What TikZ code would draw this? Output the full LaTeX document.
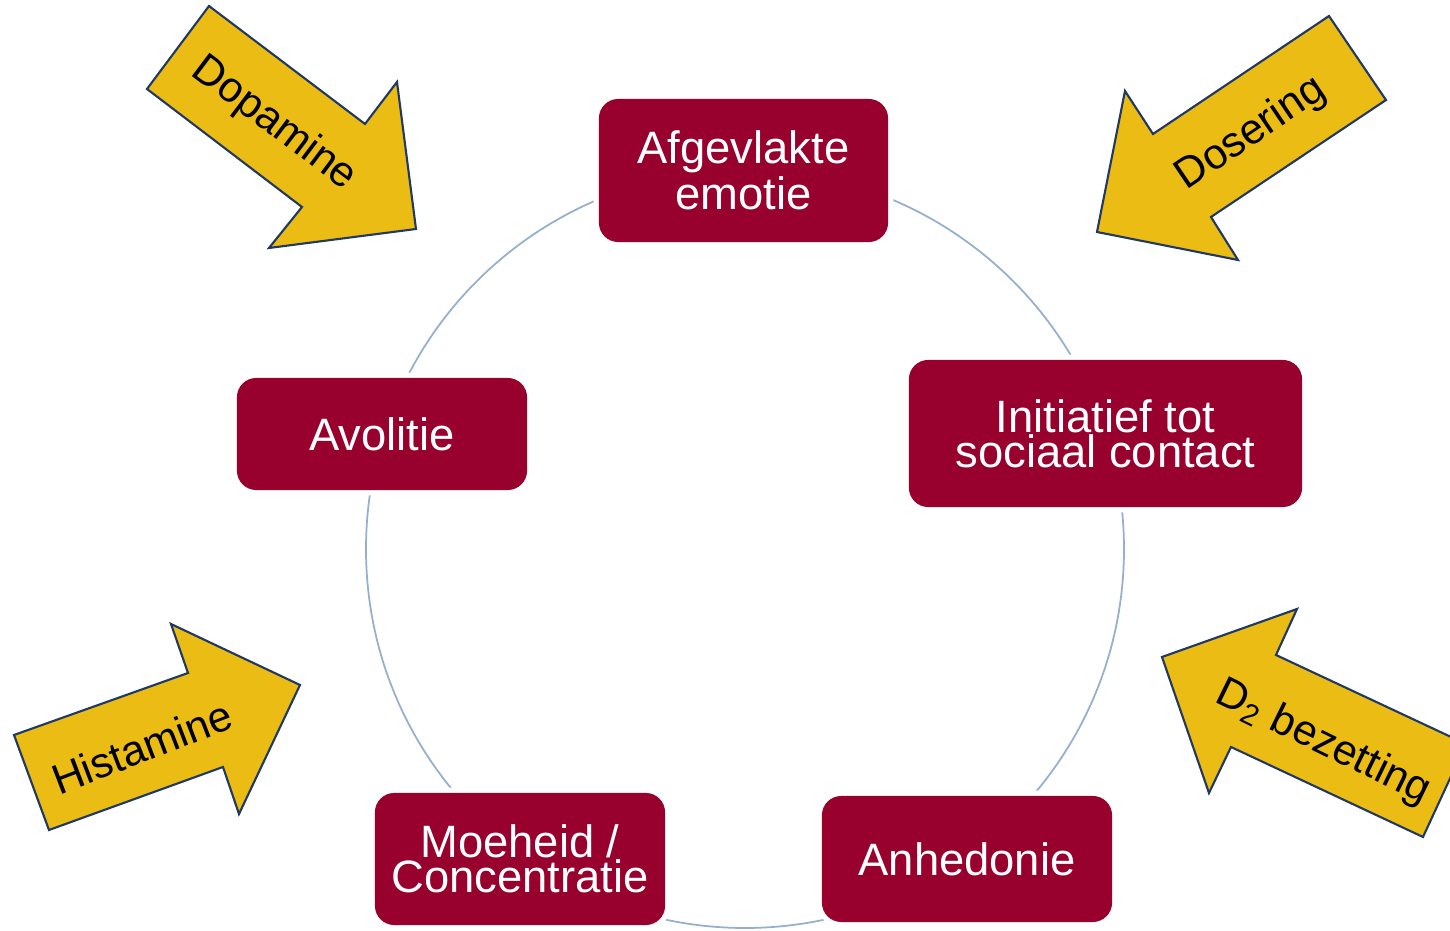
\documentclass[tikz,border=0pt]{standalone}
\usepackage{fontspec}
\setmainfont{Liberation Sans}

\definecolor{bordeaux}{RGB}{152,0,46}
\definecolor{goud}{RGB}{234,188,20}
\definecolor{marine}{RGB}{32,56,100}
\definecolor{lijnblauw}{RGB}{150,175,205}

\begin{document}
\begin{tikzpicture}[x=0.01cm, y=-0.01cm,
	kader/.style={fill=bordeaux, text=white, rounded corners=5.5pt, align=center, inner sep=0pt,
		font=\fontsize{12.9}{10}\selectfont, preaction={draw=white, line width=3pt}},
	pijl/.style={fill=goud, draw=marine, line width=0.6pt, line join=miter},
	pijltekst/.style={font=\fontsize{12.1}{14}\selectfont, inner sep=0pt}]
	
	\useasboundingbox (0,0) rectangle (1450,931);
	\clip (0,0) rectangle (1450,931);
	
	\draw[lijnblauw, line width=0.5pt] (745,549) circle (379);
	
	\node[kader, minimum width=2.89cm, minimum height=1.43cm] (emotie) at (743.5,170.5) {Afgevlakte\\emotie};
	\node[kader, minimum width=3.93cm, minimum height=1.47cm] (initiatief) at (1105.5,433.5) {Initiatief tot\\sociaal contact};
	\node[kader, minimum width=2.90cm, minimum height=1.12cm] (avolitie) at (382,434) {Avolitie};
	\node[kader, minimum width=2.90cm, minimum height=1.32cm] (moeheid) at (520,859) {Moeheid /\\Concentratie};
	\node[kader, minimum width=2.90cm, minimum height=1.26cm] (anhedonie) at (967,859) {Anhedonie};
	
	% pijlen
	\draw[pijl] (209,6) -- (365,124) -- (397,82) -- (416,229) -- (269,248) -- (302,207) -- (147,89) -- cycle;
	\node[pijltekst, rotate=-37] (dopamine) at (274,124) {Dopamine};
	
	\draw[pijl] (1329,16) -- (1386,100) -- (1211,217) -- (1238,260) -- (1097,232) -- (1125,91) -- (1153,134) -- cycle;
	\node[pijltekst, rotate=34] (dosering) at (1251,134) {Dosering};
	
	\draw[pijl] (14,735) -- (188,673) -- (171,624) -- (300,685) -- (239,814) -- (223,767) -- (49,830) -- cycle;
	\node[pijltekst, rotate=21] (histamine) at (142,747) {Histamine};
	
	\draw[pijl] (1297,609) -- (1276,655) -- (1466,744) -- (1423,837) -- (1231,747) -- (1209,793) -- (1162,657) -- cycle;
	\node[pijltekst, rotate=-26] (bezetting) at (1323,743) {D\textsubscript{2} bezetting};
	
\end{tikzpicture}
\end{document}
